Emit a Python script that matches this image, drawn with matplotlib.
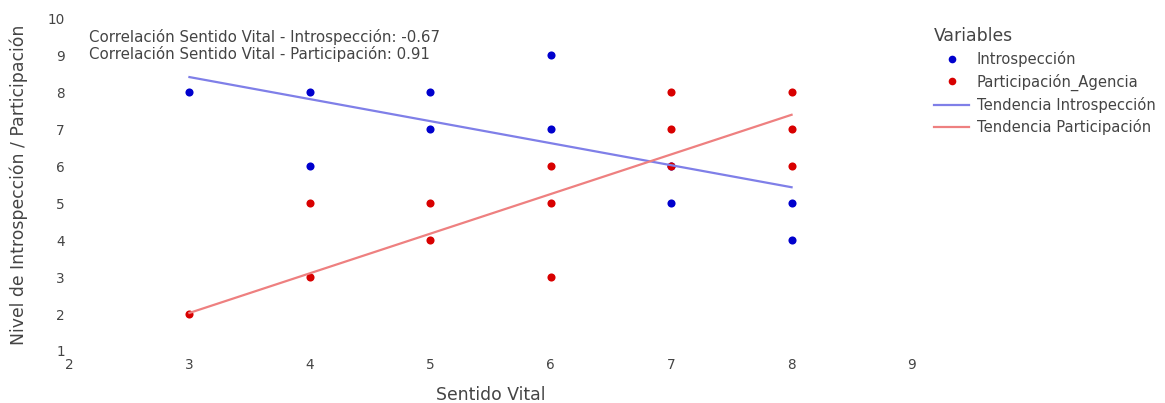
import matplotlib.pyplot as plt
from matplotlib.lines import Line2D

WIDTH = 1165
HEIGHT = 403

# Observed scores (points that share a position are drawn once)
intro_sentido = [3, 4, 4, 5, 5, 6, 6, 7, 7, 8, 8]
intro_nivel = [8, 8, 6, 8, 7, 9, 7, 6, 5, 5, 4]

part_sentido = [3, 4, 4, 5, 5, 6, 6, 6, 7, 7, 7, 8, 8, 8]
part_nivel = [2, 5, 3, 5, 4, 6, 5, 3, 8, 7, 6, 8, 7, 6]

# Fitted trend lines, evaluated at the ends of the Sentido Vital range
trend_sentido = [3, 8]
trend_intro = [8.41, 5.43]
trend_part = [2.03, 7.39]

corr_intro = -0.67
corr_part = 0.91

x_ticks = [2, 3, 4, 5, 6, 7, 8, 9]
y_ticks = [1, 2, 3, 4, 5, 6, 7, 8, 9, 10]

BLUE = "#0000CD"
RED = "#D80000"
TEXT = "#444444"

fig = plt.figure(figsize=(WIDTH / 100, HEIGHT / 100), dpi=100)
ax = fig.add_axes([69 / WIDTH, 1 - 351 / HEIGHT, (912 - 69) / WIDTH, (351 - 18.3) / HEIGHT])

ax.scatter(intro_sentido, intro_nivel, s=34, color=BLUE, linewidths=0, zorder=3)
ax.scatter(part_sentido, part_nivel, s=34, color=RED, linewidths=0, zorder=3)
ax.plot(trend_sentido, trend_intro, color="#7f7fe8", lw=1.6, zorder=4)
ax.plot(trend_sentido, trend_part, color="#ee8080", lw=1.6, zorder=4)

ax.set_xlim(2, 9)
ax.set_ylim(1, 10)
ax.set_xticks(x_ticks)
ax.set_yticks(y_ticks)
ax.tick_params(length=0, labelsize=9.8, colors=TEXT)
ax.tick_params(axis="x", pad=5)
ax.tick_params(axis="y", pad=3)
for side in ax.spines.values():
    side.set_visible(False)

ax.set_xlabel("Sentido Vital", fontsize=12.4, color=TEXT, labelpad=10)
ax.set_ylabel("Nivel de Introspección / Participación", fontsize=12.4, color=TEXT, labelpad=14)

ax.text(0.024, 0.945, f"Correlación Sentido Vital - Introspección: {corr_intro:.2f}",
        transform=ax.transAxes, fontsize=10.8, color=TEXT, va="center", ha="left")
ax.text(0.024, 0.894, f"Correlación Sentido Vital - Participación: {corr_part:.2f}",
        transform=ax.transAxes, fontsize=10.8, color=TEXT, va="center", ha="left")

handles = [
    Line2D([], [], ls="none", marker="o", markersize=5.5, color=BLUE, markeredgewidth=0),
    Line2D([], [], ls="none", marker="o", markersize=5.5, color=RED, markeredgewidth=0),
    Line2D([], [], color="#7f7fe8", lw=1.6),
    Line2D([], [], color="#ee8080", lw=1.6),
]
labels = ["Introspección", "Participación_Agencia", "Tendencia Introspección", "Tendencia Participación"]
leg = fig.legend(handles, labels, title="Variables", loc="upper left",
                 bbox_to_anchor=(934 / WIDTH, 1 - 27 / HEIGHT), frameon=False,
                 fontsize=10.6, title_fontsize=12.4, labelspacing=0.42,
                 handlelength=2.4, handletextpad=0.5, borderpad=0, borderaxespad=0)
leg._legend_box.align = "left"
for t in leg.get_texts():
    t.set_color(TEXT)
leg.get_title().set_color(TEXT)

fig.savefig("out.png", dpi=100)
